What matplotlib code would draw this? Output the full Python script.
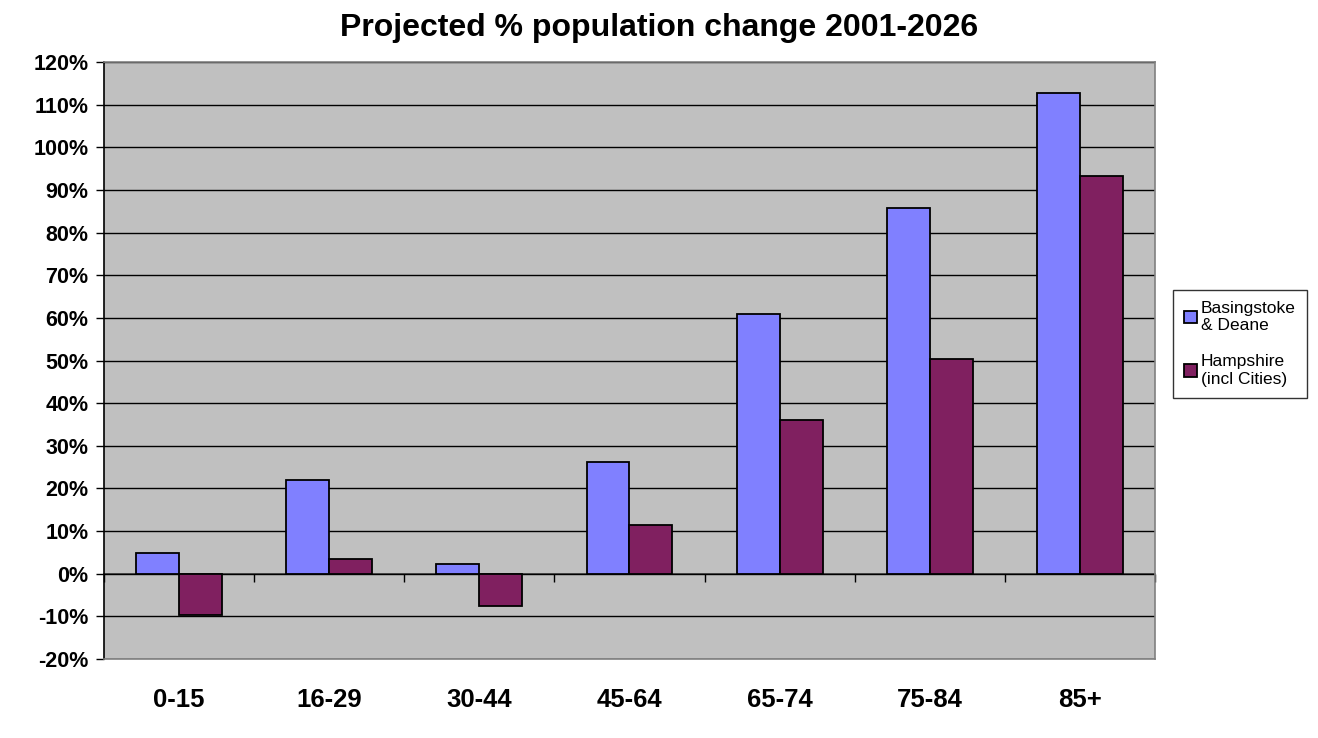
import numpy as np
import matplotlib.pyplot as plt
from matplotlib.ticker import MultipleLocator, FuncFormatter

plt.rcParams['font.family'] = ['Liberation Sans', 'DejaVu Sans']

age_groups = ["0-15", "16-29", "30-44", "45-64", "65-74", "75-84", "85+"]
basingstoke = [4.8, 21.9, 2.4, 26.1, 61.0, 85.8, 112.8]
hampshire = [-9.7, 3.4, -7.5, 11.5, 36.0, 50.4, 93.3]
series_names = ["Basingstoke\n& Deane", "Hampshire\n(incl Cities)"]

fig = plt.figure(figsize=(13.18, 7.38), dpi=100)
ax = fig.add_axes([0.0789, 0.107, 0.7974, 0.809])
ax.set_facecolor("#C0C0C0")

x = np.arange(len(age_groups))
w = 1 / 3.5
ax.bar(x - w / 2, basingstoke, w, color="#8080FF", edgecolor="black", linewidth=1.3,
       label=series_names[0], zorder=3)
ax.bar(x + w / 2, hampshire, w, color="#802060", edgecolor="black", linewidth=1.3,
       label=series_names[1], zorder=3)

ax.set_xlim(-0.5, len(age_groups) - 0.5)
ax.set_ylim(-20, 120)
ax.yaxis.set_major_locator(MultipleLocator(10))
ax.yaxis.set_major_formatter(FuncFormatter(lambda v, p: f"{v:.0f}%"))
ax.grid(axis="y", color="black", linewidth=1, zorder=1)
ax.set_axisbelow(True)

ax.set_xticks(x)
ax.set_xticklabels(age_groups, fontsize=18.5, fontweight="bold")
ax.tick_params(axis="x", length=0, pad=21)
ax.tick_params(axis="y", direction="out", length=6, width=1, labelsize=15.5, pad=5)
for lab in ax.get_yticklabels():
    lab.set_fontweight("bold")

for side in ["top", "right", "bottom"]:
    ax.spines[side].set_color("#808080")
    ax.spines[side].set_linewidth(1.2)
ax.spines["left"].set_color("black")
ax.spines["left"].set_linewidth(1.2)

# category axis crossing at zero
zero_ax = ax.secondary_xaxis(20 / 140)
zero_ax.set_xticks(np.arange(len(age_groups) + 1) - 0.5)
zero_ax.set_xticklabels([])
zero_ax.tick_params(direction="out", length=6, width=1, color="black")
zero_ax.spines["bottom"].set_color("#404040")
zero_ax.spines["bottom"].set_linewidth(1.2)

fig.suptitle("Projected % population change 2001-2026", x=0.5, y=0.982,
             fontsize=23, fontweight="bold")

leg = ax.legend(loc="center left", bbox_to_anchor=(1.017, 0.528), frameon=True,
                fancybox=False, edgecolor="black", fontsize=12.5, handlelength=0.75,
                handleheight=0.75, handletextpad=0.2, labelspacing=1.2,
                borderpad=0.65, borderaxespad=0)
leg.get_frame().set_linewidth(1)

fig.savefig("out.png", dpi=100)
